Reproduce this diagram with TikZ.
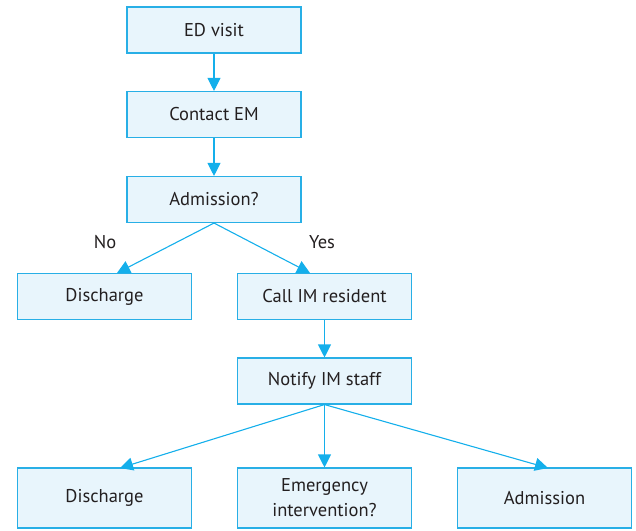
\documentclass[tikz,border=0pt]{standalone}
\usepackage{fontspec}
\setmainfont{PT Sans}
\usetikzlibrary{arrows.meta}
\definecolor{bordc}{RGB}{40,175,230}
\definecolor{fillc}{RGB}{232,245,252}
\definecolor{arrc}{RGB}{20,175,235}
\definecolor{txtc}{RGB}{35,31,32}
\begin{document}
\begin{tikzpicture}[x=1pt,y=-1pt,
  box/.style={draw=bordc,fill=fillc,line width=1.1pt,minimum width=174pt,minimum height=46pt,inner sep=0pt,font=\fontsize{18.5}{25}\selectfont,text=txtc,align=center},
  tallbox/.style={box,minimum height=60pt},
  conn/.style={draw=arrc,line width=1.1pt,-{Triangle[length=13pt,width=13pt]}},
  lbl/.style={font=\fontsize{18.5}{25}\selectfont,text=txtc}]
\useasboundingbox (0,0) rectangle (636,530);
\node[box] (ed) at (214,30) {ED visit};
\node[box] (em) at (214,114.5) {Contact EM};
\node[box] (adq) at (214,199.5) {Admission?};
\node[box] (dis1) at (104.5,296.5) {Discharge};
\node[box] (call) at (324.5,296.5) {Call IM resident};
\node[box] (notify) at (324.5,381) {Notify IM staff};
\node[tallbox] (dis2) at (104.5,498) {Discharge};
\node[tallbox] (emer) at (324.5,498) {Emergency\\intervention?};
\node[tallbox] (adm) at (544.5,498) {Admission};
\coordinate (d1t) at (117,273);
\coordinate (cat) at (310,273);
\coordinate (d2t) at (120,468);
\coordinate (adt) at (548,468);
\draw[conn] (ed) -- (em);
\draw[conn] (em) -- (adq);
\draw[conn] (adq.south) -- (d1t);
\draw[conn] (adq.south) -- (cat);
\draw[conn] (call) -- (notify);
\draw[conn] (notify.south) -- (d2t);
\draw[conn] (notify.south) -- (emer);
\draw[conn] (notify.south) -- (adt);
\node[lbl] (no) at (105,242) {No};
\node[lbl] (yes) at (322,242) {Yes};
\end{tikzpicture}
\end{document}
